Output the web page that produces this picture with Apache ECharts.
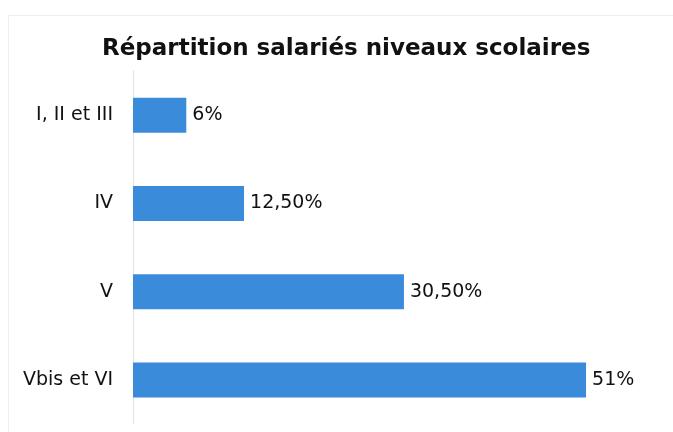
<!DOCTYPE html>
<html>
<head>
<meta charset="utf-8">
<script src="https://cdn.jsdelivr.net/npm/echarts@6/dist/echarts.min.js"></script>
<style>
  html, body { margin: 0; padding: 0; background: #fff; }
  #chart { width: 673px; height: 432px; }
</style>
</head>
<body>
<div id="chart"></div>
<script>
// catégories (de haut en bas)
const niveaux = ['I, II et III', 'IV', 'V', 'Vbis et VI'];
// pourcentages
const valeurs = [6, 12.5, 30.5, 51];
// étiquettes affichées au bout des barres
const etiquettes = ['6%', '12,50%', '30,50%', '51%'];

const chart = echarts.init(document.getElementById('chart'), null, { renderer: 'canvas' });

const option = {
  backgroundColor: '#ffffff',
  animation: false,
  // cadre léger du graphique
  graphic: [{
    type: 'rect',
    shape: { x: 8.5, y: 15.5, width: 700, height: 430 },
    style: { fill: 'none', stroke: '#eeeeee', lineWidth: 1 },
    silent: true
  }],
  title: {
    text: 'Répartition salariés niveaux scolaires',
    left: 97,
    top: 33,
    textStyle: {
      fontFamily: 'DejaVu Sans',
      fontWeight: 'bold',
      fontSize: 23,
      color: '#111111'
    }
  },
  grid: {
    left: 133,
    right: 7,
    top: 71,
    bottom: 8,
    containLabel: false
  },
  xAxis: {
    type: 'value',
    min: 0,
    max: 60,
    show: false
  },
  yAxis: {
    type: 'category',
    inverse: true,
    data: niveaux,
    axisLine: { show: true, lineStyle: { color: '#e2e2e2', width: 1 } },
    axisTick: { show: false },
    axisLabel: {
      margin: 20,
      fontFamily: 'DejaVu Sans',
      fontSize: 19,
      color: '#111111'
    }
  },
  series: [{
    type: 'bar',
    data: valeurs,
    barWidth: 35,
    itemStyle: { color: '#3b8bdb' },
    label: {
      show: true,
      position: 'right',
      distance: 6,
      fontFamily: 'DejaVu Sans',
      fontSize: 19,
      color: '#111111',
      formatter: function (p) {
        return etiquettes[p.dataIndex];
      }
    }
  }]
};

chart.setOption(option);
</script>
</body>
</html>
